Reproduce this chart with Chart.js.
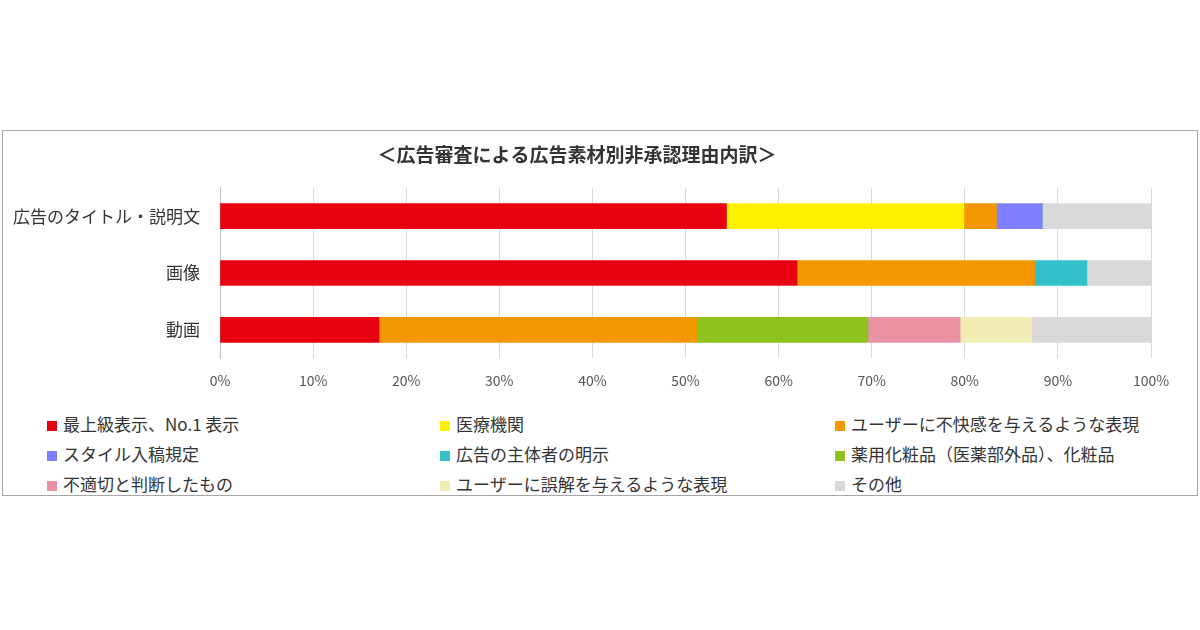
<!DOCTYPE html>
<html><head><meta charset="utf-8">
<script src="https://cdn.jsdelivr.net/npm/chart.js@4"></script>
<style>
body{margin:0;background:#fff;font-family:"Noto Sans CJK JP",sans-serif;}
#box{position:absolute;left:2px;top:130px;width:1194px;height:364px;border:1px solid #a6a6a6;}
#wrap{position:absolute;left:0;top:0;width:1194px;height:272px;}
#legend{position:absolute;left:44px;top:280px;display:grid;grid-template-columns:393px 395px 360px;row-gap:5px;font-size:17px;color:#333;}
#legend span.sw{display:inline-block;width:10px;height:10px;margin-right:6px;}
</style></head><body>
<div id="box"><div id="wrap"><canvas id="c"></canvas></div><div id="legend"></div></div>
<script>
// カテゴリと系列
const categories = ['広告のタイトル・説明文', '画像', '動画'];
const seriesNames = ['最上級表示、No.1 表示', '医療機関', 'ユーザーに不快感を与えるような表現', 'スタイル入稿規定', '広告の主体者の明示', '薬用化粧品（医薬部外品）、化粧品', '不適切と判断したもの', 'ユーザーに誤解を与えるような表現', 'その他'];
const seriesColors = ['#e60012', '#fff100', '#f39800', '#8080ff', '#33c0c8', '#8dc21f', '#e993a5', '#f0ecb4', '#d9d9d9'];
const saijokyu = [54.4, 62.0, 17.1];
const iryo = [25.5, 0, 0];
const fukai = [3.5, 25.5, 34.1];
const style = [4.9, 0, 0];
const shutai = [0, 5.6, 0];
const keshohin = [0, 0, 18.4];
const futekisetsu = [0, 0, 9.9];
const gokai = [0, 0, 7.7];
const sonota = [11.7, 6.9, 12.8];
const xTicks = ['0%', '10%', '20%', '30%', '40%', '50%', '60%', '70%', '80%', '90%', '100%'];

const values = [saijokyu, iryo, fukai, style, shutai, keshohin, futekisetsu, gokai, sonota];
const datasets = seriesNames.map((n, i) => ({
    label: n, data: values[i], backgroundColor: seriesColors[i], barThickness: 25
}));

// 凡例はHTMLで
document.getElementById('legend').innerHTML = seriesNames.map((n, i) =>
    `<div><span class="sw" style="background:${seriesColors[i]}"></span>${n}</div>`).join('');

new Chart(document.getElementById('c'), {
    type: 'bar',
    data: { labels: categories, datasets: datasets },
    options: {
        indexAxis: 'y', responsive: true, maintainAspectRatio: false, animation: false,
        layout: { padding: { left: 0, right: 46, top: 8, bottom: 0 } },
        plugins: {
            legend: { display: false }, tooltip: { enabled: false },
            title: { display: true, text: '＜広告審査による広告素材別非承認理由内訳＞', color: '#333',
                font: { size: 19, weight: 'bold', family: '"Noto Sans CJK JP"' }, padding: { top: 4, bottom: 22 } }
        },
        scales: {
            x: { stacked: true, min: 0, max: 100,
                grid: { color: '#d9d9d9', drawTicks: false }, border: { display: false },
                ticks: { stepSize: 10, padding: 14, color: '#555', font: { size: 14, family: '"Noto Sans CJK JP"' },
                    callback: (v, i) => xTicks[i] } },
            y: { stacked: true, grid: { display: false }, border: { color: '#bfbfbf' },
                afterFit: s => { s.width = 217; },
                ticks: { color: '#333', padding: 12, font: { size: 17, family: '"Noto Sans CJK JP"' } } }
        }
    }
});
</script></body></html>
